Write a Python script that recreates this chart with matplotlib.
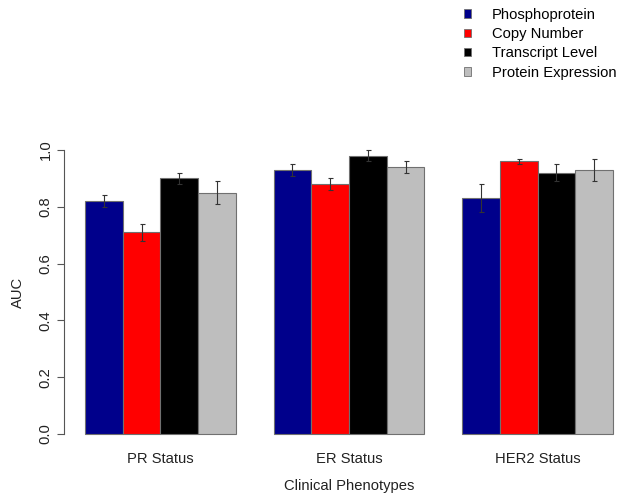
import numpy as np
import matplotlib.pyplot as plt
from matplotlib.patches import Patch

plt.rcParams['font.family'] = ['Liberation Sans', 'DejaVu Sans']

phenotypes = ['PR Status', 'ER Status', 'HER2 Status']
series = ['Phosphoprotein', 'Copy Number', 'Transcript Level', 'Protein Expression']
colors = ['#00008b', '#ff0000', '#000000', '#bebebe']

auc = [
    [0.82, 0.93, 0.83],  # Phosphoprotein
    [0.71, 0.88, 0.96],  # Copy Number
    [0.90, 0.98, 0.92],  # Transcript Level
    [0.85, 0.94, 0.93],  # Protein Expression
]
err = [
    [0.02, 0.02, 0.05],
    [0.03, 0.02, 0.01],
    [0.02, 0.02, 0.03],
    [0.04, 0.02, 0.04],
]

fs = 10.6

fig = plt.figure(figsize=(6.36, 4.99), dpi=100)
ax = fig.add_axes([0.1005, 0.1074, 0.8964, 0.6148])

# R-style barplot: bar width 1, one bar of space between groups
n = len(series)
group_start = np.arange(len(phenotypes)) * (n + 1) + 1
for i, name in enumerate(series):
    x = group_start + i + 0.5
    ax.bar(x, auc[i], width=1.0, color=colors[i], edgecolor='#707070',
           linewidth=0.8, label=name)
    ax.errorbar(x, auc[i], yerr=err[i], fmt='none', ecolor='#333333',
                elinewidth=0.8, capsize=1.8, capthick=0.8)

ax.set_xlim(0.44, 15.56)
ax.set_ylim(-0.04, 1.04)
for s in ['top', 'right', 'bottom']:
    ax.spines[s].set_visible(False)
ax.spines['left'].set_bounds(0, 1)
ax.spines['left'].set_color('#555555')
ax.spines['left'].set_linewidth(0.8)

ax.set_yticks(np.arange(0, 1.01, 0.2))
ax.set_yticklabels([f'{v:.1f}' for v in np.arange(0, 1.01, 0.2)],
                   rotation=90, va='center', fontsize=fs, color='#222222')
ax.tick_params(axis='y', length=5, width=0.8, color='#555555', pad=3)
ax.set_xticks(group_start + n / 2)
ax.set_xticklabels(phenotypes, fontsize=fs, color='#222222')
ax.tick_params(axis='x', length=0, pad=5)

ax.set_xlabel('Clinical Phenotypes', fontsize=fs, color='#222222', labelpad=9)
ax.set_ylabel('AUC', fontsize=fs, color='#222222', labelpad=10)

handles = [Patch(facecolor=c, edgecolor='#707070', linewidth=0.6) for c in colors]
fig.legend(handles, series, loc='upper left', bbox_to_anchor=(0.711, 1.008),
           frameon=False, fontsize=fs, handlelength=0.5, handleheight=0.5,
           handletextpad=1.4, labelspacing=0.36, borderpad=0.3)

fig.savefig('out.png', dpi=100)
